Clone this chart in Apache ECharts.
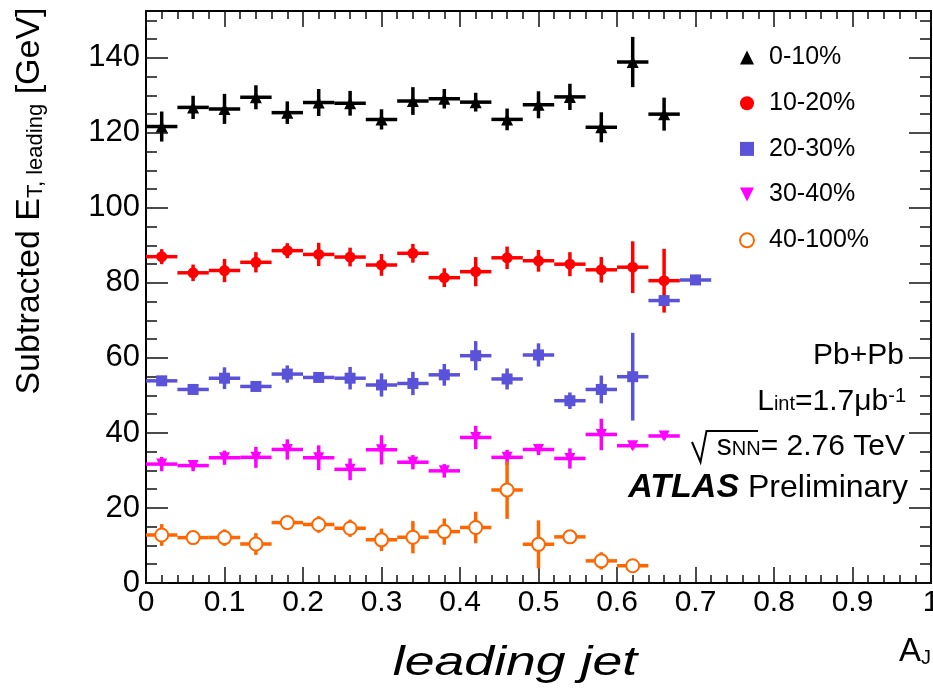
<!DOCTYPE html>
<html><head><meta charset="utf-8">
<script src="https://cdn.jsdelivr.net/npm/echarts@6/dist/echarts.min.js"></script>
<style>html,body{margin:0;padding:0;background:#fff;overflow:hidden}#c{width:933px;height:699px}</style>
</head><body><div id="c"></div><script>
// ---- data ----
const binCenters = [0.02,0.06,0.10,0.14,0.18,0.22,0.26,0.30,0.34,0.38,0.42,0.46,0.50,0.54,0.58,0.62,0.66,0.70];
const binHalfWidth = 0.02;
const seriesNames = ['0-10%','10-20%','20-30%','30-40%','40-100%'];
const val_0_10   = [121.7,126.8,126.4,129.5,125.4,128.1,127.9,123.6,128.5,129.1,128.2,123.6,127.5,129.6,121.5,138.9,125.0];
const err_0_10   = [4.0,3.1,4.0,3.2,3.0,3.6,3.3,2.7,3.7,2.6,2.5,2.9,3.6,3.5,4.0,6.7,4.4];
const val_10_20  = [87.0,82.7,83.3,85.5,88.6,87.6,86.9,84.8,87.9,81.4,83.0,86.7,85.9,85.0,83.5,84.2,80.6];
const err_10_20  = [2.0,2.2,3.1,2.7,2.0,3.1,2.5,2.9,2.5,2.5,3.9,3.0,2.9,3.2,3.4,6.9,8.5];
const val_20_30  = [53.9,51.6,54.6,52.4,55.7,54.8,54.6,52.8,53.2,55.5,60.6,54.4,60.8,48.6,51.6,55.0,75.3,80.8];
const err_20_30  = [1.2,1.0,2.9,1.0,2.3,1.0,3.0,3.1,3.1,2.9,3.9,2.8,3.1,2.2,3.7,11.7,1.0,1.0];
const val_30_40  = [31.7,31.3,33.4,33.5,35.6,33.4,30.3,35.5,32.2,29.9,38.8,33.5,35.6,33.2,39.6,36.6,39.2];
const err_30_40  = [1.9,1.5,1.9,2.8,2.7,3.3,2.9,3.9,1.9,1.8,3.1,2.0,1.5,2.7,4.2,1.0,1.0];
const val_40_100 = [12.8,12.1,12.1,10.4,16.1,15.6,14.6,11.5,12.2,13.7,14.8,24.8,10.3,12.3,5.9,4.6];
const err_40_100 = [2.9,1.0,2.2,2.9,1.5,2.2,2.3,3.0,4.3,3.5,4.2,7.7,6.4,1.0,2.3,1.0];
const xTickLabels = ['0','0.1','0.2','0.3','0.4','0.5','0.6','0.7','0.8','0.9','1'];
const yTickLabels = ['0','20','40','60','80','100','120','140'];

// ---- styles ----
const FONT = "'Liberation Sans', Arial, Helvetica, sans-serif";
const colors = ['#000000','#ff0000','#5a52d8','#ff00ff','#ff6600'];
const symbols = ['triangle','circle','rect','path://M0,0 L10,0 L5,10 Z','circle'];
const symSizes = [12,11,11,11,13];
const vals = [val_0_10,val_10_20,val_20_30,val_30_40,val_40_100];
const errs = [err_0_10,err_10_20,err_20_30,err_30_40,err_40_100];

function errRender(color){
  return function(params, api){
    const x = api.value(0), y = api.value(1), e = api.value(2);
    const pL = api.coord([x - binHalfWidth, y]);
    const pR = api.coord([x + binHalfWidth, y]);
    const pT = api.coord([x, y + e]);
    const pB = api.coord([x, y - e]);
    const st = {stroke: color, lineWidth: 3.5};
    return {type:'group', children:[
      {type:'line', shape:{x1:pL[0],y1:pL[1],x2:pR[0],y2:pR[1]}, style:st},
      {type:'line', shape:{x1:pT[0],y1:pT[1],x2:pB[0],y2:pB[1]}, style:st}
    ]};
  };
}

const series = [];
vals.forEach((v,i)=>{
  const d = v.map((y,k)=>[binCenters[k], y, errs[i][k]]);
  series.push({type:'custom', name: seriesNames[i]+' err', data:d, renderItem: errRender(colors[i]),
    encode:{x:0,y:1}, z:2, silent:true, animation:false});
});
vals.forEach((v,i)=>{
  const d = v.map((y,k)=>[binCenters[k], y]);
  const open = i===4;
  series.push({type:'scatter', name: seriesNames[i], data:d, symbol:symbols[i], symbolSize:symSizes[i],
    itemStyle: open ? {color:'#ffffff', borderColor:colors[i], borderWidth:2, opacity:1} : {color:colors[i], opacity:1},
    z:5, animation:false});
});

const tickCol = '#111';
function xAx(pos, labels){
  return {type:'value', min:0, max:1, interval:0.1, position:pos,
    axisLine:{show:true, onZero:false, lineStyle:{color:'#000', width:2}},
    axisTick:{show:true, inside:true, length:16, lineStyle:{color:tickCol, width:1.5}},
    minorTick:{show:true, splitNumber:5, length:8, lineStyle:{color:tickCol, width:1.5}},
    splitLine:{show:false},
    axisLabel:{show:labels, fontSize:30, fontFamily:FONT, color:'#000', margin:5, hideOverlap:false,
      formatter:(v)=>xTickLabels[Math.round(v*10)] || ''}};
}
function yAx(pos, labels){
  return {type:'value', min:0, max:152.5, interval:20, position:pos,
    axisLine:{show:true, onZero:false, lineStyle:{color:'#000', width:2}},
    axisTick:{show:true, inside:true, length:22, lineStyle:{color:tickCol, width:1.5}},
    minorTick:{show:true, splitNumber:4, length:11, lineStyle:{color:tickCol, width:1.5}},
    splitLine:{show:false},
    axisLabel:{show:labels, fontSize:31, fontFamily:FONT, color:'#000', margin:6, showMaxLabel:false,
      formatter:(v)=>{const k=Math.round(v/20); return (Math.abs(v-k*20)<1e-6 && yTickLabels[k]) ? yTickLabels[k] : '';}}};
}

const annoRich = {
  m:{fontSize:30, fontFamily:FONT, color:'#000', lineHeight:30, padding:[6,0,6,0]},
  p:{fontSize:32, fontFamily:FONT, color:'#000', lineHeight:32, padding:[6,0,6,0]},
  sub:{fontSize:20, fontFamily:FONT, color:'#000', lineHeight:20, padding:[0,0,2,0], verticalAlign:'bottom'},
  sup:{fontSize:20, fontFamily:FONT, color:'#000', lineHeight:20, verticalAlign:'top'},
  b:{fontSize:34, fontFamily:FONT, color:'#000', lineHeight:34, padding:[6,0,6,0], fontWeight:'bold', fontStyle:'italic'}
};

const option = {
  backgroundColor:'#fff',
  animation:false,
  grid:{left:146, top:11, width:785, height:572, containLabel:false, outerBoundsMode:'none'},
  xAxis:[xAx('bottom', true), xAx('top', false)],
  yAxis:[yAx('left', true), yAx('right', false)],
  legend:{
    data: seriesNames.map((n,i)=>({name:n, icon:symbols[i],
      itemStyle: i===4 ? {color:'#fff', borderColor:colors[i], borderWidth:2} : {color:colors[i]}})),
    orient:'vertical', left:734, top:40, itemWidth:14, itemHeight:14, itemGap:20.7,
    selectedMode:false,
    textStyle:{fontSize:25, fontFamily:FONT, color:'#000', lineHeight:24, padding:[0,0,0,10]}
  },
  graphic:[
    {type:'text', x:30, y:201, rotation:Math.PI/2, style:{
      text:'{a|Subtracted E}{s|T, leading}{a| [GeV]}', align:'center', verticalAlign:'middle',
      rich:{a:{fontSize:34, fontFamily:FONT, color:'#000', lineHeight:34, padding:[0,0,8,0], verticalAlign:'top'},
            s:{fontSize:22, fontFamily:FONT, color:'#000', lineHeight:22, verticalAlign:'bottom'}}}},
    {type:'text', x:904, y:355.6, style:{text:'{m|Pb+Pb}', rich:annoRich, align:'right', verticalAlign:'middle'}},
    {type:'text', x:906, y:401.3, style:{text:'{m|L}{sub|int}{m|=1.7\u03bcb}{sup|-1}', rich:annoRich, align:'right', verticalAlign:'middle'}},
    {type:'text', x:905, y:446.3, style:{text:'{m|s}{sub|NN}{m|= 2.76 TeV}', rich:annoRich, align:'right', verticalAlign:'middle'}},
    {type:'polyline', shape:{points:[[692,442],[700.5,462],[706.5,431],[758,431]]}, style:{stroke:'#000', lineWidth:2, fill:null}},
    {type:'text', x:908, y:488, style:{text:'{b|ATLAS}{p| Preliminary}', rich:annoRich, align:'right', verticalAlign:'middle'}},
    {type:'text', x:515, y:664, scaleX:1.34, style:{text:'leading jet', font:'italic 40px '+FONT, fill:'#000', align:'center', verticalAlign:'middle'}},
    {type:'text', x:899, y:652, style:{text:'{m|A}{sub|J}', rich:{
      m:{fontSize:33, fontFamily:FONT, color:'#000', lineHeight:33, padding:[0,0,8,0], verticalAlign:'top'},
      sub:{fontSize:20, fontFamily:FONT, color:'#000', lineHeight:20, verticalAlign:'bottom'}}, align:'left', verticalAlign:'middle'}}
  ],
  series: series
};
const chart = echarts.init(document.getElementById('c'), null, {renderer:'canvas'});
chart.setOption(option);
</script></body></html>
